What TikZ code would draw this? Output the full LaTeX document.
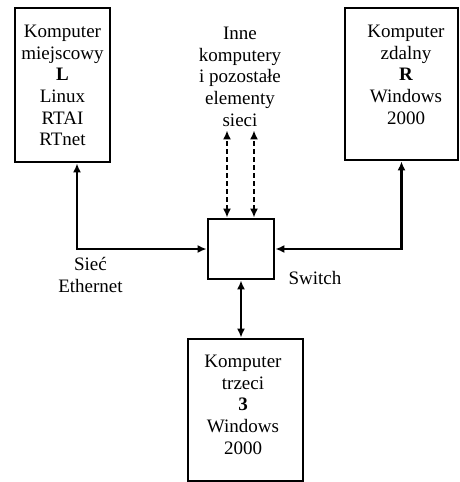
\documentclass[tikz,border=0pt]{standalone}
\usepackage{fontspec}
\setmainfont{Liberation Serif}
\usetikzlibrary{arrows.meta, positioning, calc}

\begin{document}
\begin{tikzpicture}[x=1pt, y=-1pt,
  box/.style={draw, line width=2.8pt, inner sep=0pt},
  txt/.style={align=center, inner sep=0pt, font=\fontsize{19}{21.6}\selectfont},
  link/.style={line width=2.6pt, {Latex[length=9pt,width=8pt]}-{Latex[length=9pt,width=8pt]}},
  ]
  \useasboundingbox (0,0) rectangle (460,482);

  % komputery i switch
  \node[box, minimum width=95pt, minimum height=154pt] (L) at (62.5,85) {};
  \node[box, minimum width=113pt, minimum height=152pt] (R) at (401.5,84) {};
  \node[box, minimum width=66pt, minimum height=60pt] (sw) at (241,249) {};
  \node[box, minimum width=115pt, minimum height=142pt] (B) at (245.5,410) {};

  % opisy
  \node[txt, anchor=north] (Ltxt) at (62.5,25) {Komputer\\miejscowy\\\textbf{L}\\Linux\\RTAI\\RTnet};
  \node[txt, anchor=north] (Rtxt) at (406,25) {Komputer\\zdalny\\\textbf{R}\\Windows\\2000};
  \node[txt, anchor=north] (Btxt) at (243,355) {Komputer\\trzeci\\\textbf{3}\\Windows\\2000};
  \node[txt, anchor=north] (inne) at (240,27) {Inne\\komputery\\i pozostałe\\elementy\\sieci};
  \node[txt] (eth) at (90.5,275) {Sieć\\Ethernet};
  \node[txt] (swl) at (315,278) {Switch};

  % polaczenia
  \draw[link] ($(L.south)+(14.5,0)$) |- (sw.west);
  \draw[link] (R.south) |- (sw.east);
  \draw[link] (sw.south) -- (sw.south |- B.north);
  \coordinate (d1) at ($(sw.north)+(-14,0)$);
  \coordinate (d2) at ($(sw.north)+(13,0)$);
  \draw[link, dash pattern=on 5pt off 3pt, shorten >=4pt] (d1) -- (d1 |- inne.south);
  \draw[link, dash pattern=on 5pt off 3pt, shorten >=4pt] (d2) -- (d2 |- inne.south);
\end{tikzpicture}
\end{document}
